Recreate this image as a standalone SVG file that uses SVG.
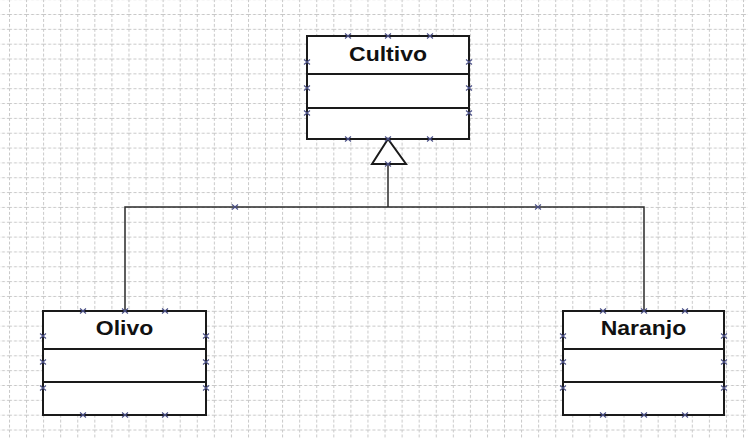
<svg xmlns="http://www.w3.org/2000/svg" xmlns:xlink="http://www.w3.org/1999/xlink" width="748" height="438" viewBox="0 0 748 438">
  <style>
    .box { fill: #ffffff; stroke: #1a1a1a; stroke-width: 2; }
    .div { stroke: #1a1a1a; stroke-width: 2; }
    .conn { fill: none; stroke: #2a2a2a; stroke-width: 1.5; }
    .tri { fill: #ffffff; stroke: #1a1a1a; stroke-width: 2; stroke-linejoin: miter; }
    .title { font-family: "Liberation Sans", Arial, sans-serif; font-weight: bold; font-size: 20px; fill: #111111; text-anchor: middle; }
    .gl { stroke: #c8c8c8; stroke-width: 1; stroke-dasharray: 3 2; }
  </style>
  <defs>
    <pattern id="grid" patternUnits="userSpaceOnUse" x="9" y="14" width="17.07" height="14.84">
      <line class="gl" x1="0" y1="0.5" x2="17.07" y2="0.5"/>
      <line class="gl" x1="0.5" y1="0" x2="0.5" y2="14.84"/>
    </pattern>
    <g id="x">
      <path d="M-3,-2.5 L3,2.5 M-3,2.5 L3,-2.5" stroke="#4a4f86" stroke-width="1.1" fill="none"/>
    </g>
  </defs>

  <rect x="0" y="0" width="748" height="438" fill="#ffffff"/>
  <rect x="0" y="0" width="748" height="438" fill="url(#grid)"/>

  <g id="connectors">
    <path class="conn" d="M388,164 L388,207"/>
    <path class="conn" d="M125,311 L125,207 L644,207 L644,311"/>
    <use xlink:href="#x" x="235" y="207"/>
    <use xlink:href="#x" x="538" y="207"/>
  </g>

  <g id="cultivo">
    <rect class="box" x="307" y="36" width="162" height="103"/>
    <line class="div" x1="307" y1="74" x2="469" y2="74"/>
    <line class="div" x1="307" y1="108" x2="469" y2="108"/>
    <text class="title" transform="translate(388,61) scale(1.15,1)">Cultivo</text>
    <polygon class="tri" points="388,139 372,164 406,164"/>
    <use xlink:href="#x" x="348" y="36"/>
    <use xlink:href="#x" x="388" y="36"/>
    <use xlink:href="#x" x="430" y="36"/>
    <use xlink:href="#x" x="348" y="139"/>
    <use xlink:href="#x" x="388" y="139"/>
    <use xlink:href="#x" x="430" y="139"/>
    <use xlink:href="#x" x="307" y="62"/>
    <use xlink:href="#x" x="307" y="88"/>
    <use xlink:href="#x" x="307" y="113"/>
    <use xlink:href="#x" x="469" y="62"/>
    <use xlink:href="#x" x="469" y="88"/>
    <use xlink:href="#x" x="469" y="113"/>
    <use xlink:href="#x" x="388" y="164"/>
  </g>

  <g id="olivo">
    <rect class="box" x="43" y="311" width="163" height="104"/>
    <line class="div" x1="43" y1="349" x2="206" y2="349"/>
    <line class="div" x1="43" y1="382" x2="206" y2="382"/>
    <text class="title" transform="translate(124.5,335) scale(1.15,1)">Olivo</text>
    <use xlink:href="#x" x="83" y="311"/>
    <use xlink:href="#x" x="125" y="311"/>
    <use xlink:href="#x" x="165" y="311"/>
    <use xlink:href="#x" x="83" y="415"/>
    <use xlink:href="#x" x="125" y="415"/>
    <use xlink:href="#x" x="165" y="415"/>
    <use xlink:href="#x" x="43" y="336"/>
    <use xlink:href="#x" x="43" y="362"/>
    <use xlink:href="#x" x="43" y="388"/>
    <use xlink:href="#x" x="206" y="336"/>
    <use xlink:href="#x" x="206" y="362"/>
    <use xlink:href="#x" x="206" y="388"/>
  </g>

  <g id="naranjo">
    <rect class="box" x="563" y="311" width="161" height="104"/>
    <line class="div" x1="563" y1="349" x2="724" y2="349"/>
    <line class="div" x1="563" y1="382" x2="724" y2="382"/>
    <text class="title" transform="translate(643.5,335) scale(1.15,1)">Naranjo</text>
    <use xlink:href="#x" x="603" y="311"/>
    <use xlink:href="#x" x="644" y="311"/>
    <use xlink:href="#x" x="685" y="311"/>
    <use xlink:href="#x" x="603" y="415"/>
    <use xlink:href="#x" x="644" y="415"/>
    <use xlink:href="#x" x="685" y="415"/>
    <use xlink:href="#x" x="563" y="336"/>
    <use xlink:href="#x" x="563" y="362"/>
    <use xlink:href="#x" x="563" y="388"/>
    <use xlink:href="#x" x="724" y="336"/>
    <use xlink:href="#x" x="724" y="362"/>
    <use xlink:href="#x" x="724" y="388"/>
  </g>
</svg>
